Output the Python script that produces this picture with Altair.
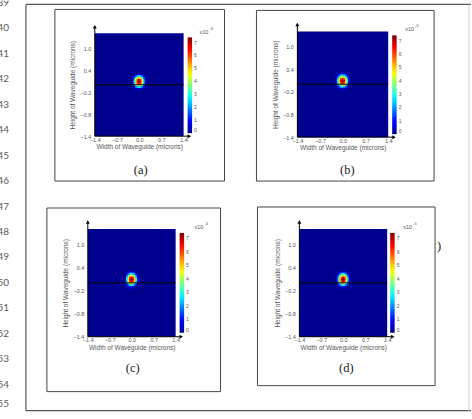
import altair as alt
import pandas as pd

# ---------------- data ----------------
x_ticks = [-1.4, -0.7, 0.0, 0.7, 1.4]
y_ticks = [-1.4, -0.8, -0.2, 0.4, 1.0]
bar_ticks = [0, 1, 2, 3, 4, 5, 6, 7]
panel_labels = ["(a)", "(b)", "(c)", "(d)"]
exponents = ["-6", "-6", "-6", "-5"]
line_numbers = list(range(39, 56))

# sampled mode intensity around the core (rows from top to bottom)
spot_x = [-0.20, -0.15, -0.10, -0.05, 0.00, 0.05, 0.10, 0.15, 0.20]
spot_y = [0.28, 0.23, 0.18, 0.13, 0.08, 0.03, -0.02, -0.07, -0.12]
spot = [
    [0.0, 0.1, 0.3, 0.5, 0.6, 0.5, 0.3, 0.1, 0.0],
    [0.1, 0.7, 1.6, 2.4, 2.8, 2.4, 1.6, 0.7, 0.1],
    [0.3, 1.6, 3.2, 4.5, 5.0, 4.5, 3.2, 1.6, 0.3],
    [0.5, 2.4, 4.5, 6.2, 6.8, 6.2, 4.5, 2.4, 0.5],
    [0.6, 2.8, 5.0, 6.8, 7.3, 6.8, 5.0, 2.8, 0.6],
    [0.5, 2.4, 4.5, 6.2, 6.8, 6.2, 4.5, 2.4, 0.5],
    [0.3, 1.6, 3.2, 4.5, 5.0, 4.5, 3.2, 1.6, 0.3],
    [0.1, 0.7, 1.6, 2.4, 2.8, 2.4, 1.6, 0.7, 0.1],
    [0.0, 0.1, 0.3, 0.5, 0.6, 0.5, 0.3, 0.1, 0.0],
]
sample_step = 0.05

# jet colour map
jet_stops = [0.0, 0.925, 2.775, 4.625, 6.475, 7.4]
jet_colors = ["#00008f", "#0000ff", "#00ffff", "#ffff00", "#ff0000", "#800000"]

# ---------------- tables ----------------
def field_table():
    h = sample_step / 2 + 0.006  # tiny overlap so neighbouring cells leave no seams
    rows = [dict(x=-1.4, x2=1.4, y=-1.4, y2=1.4, v=0.0)]
    for r, yc in enumerate(spot_y):
        for c, xc in enumerate(spot_x):
            rows.append(dict(x=xc - h, x2=xc + h, y=yc - h, y2=yc + h, v=spot[r][c]))
    return pd.DataFrame(rows)


field_df = field_table()
guide_df = pd.DataFrame(dict(
    x=[-1.4, -1.4, -1.4], x2=[1.55, -1.4, 1.4],
    y=[-1.4, -1.4, 0.0], y2=[-1.4, 1.55, 0.0],
))
arrow_df = pd.DataFrame(dict(x=[1.58, -1.4], y=[-1.4, 1.58],
                             shape=["triangle-right", "triangle-up"]))
one = pd.DataFrame({"k": [0]})

# ---------------- layout of the four cells ----------------
cells = [
    dict(w=236, h=196, frame=(55, 225, 9, 181), px=(95, 184), py=(136, 33),
         leg=(188, 37, 96), x10=(200, 34), lab=(141, 170)),
    dict(w=236, h=196, frame=(21, 199, 10, 181), px=(62, 153), py=(137, 31),
         leg=(157, 35, 99), x10=(170, 31), lab=(112, 170)),
    dict(w=236, h=223, frame=(47, 221, 12, 196), px=(88, 176), py=(141, 33),
         leg=(180, 37, 100), x10=(195, 33), lab=(133, 172)),
    dict(w=236, h=223, frame=(22, 200, 11, 190), px=(64, 152), py=(141, 33),
         leg=(155, 37, 100), x10=(168, 33), lab=(111, 172)),
]

SANS = "Liberation Sans"
SERIF = "Liberation Serif"
GREY = "#555555"

axis_style = dict(domain=False, ticks=False, tickSize=0, grid=False,
                  labelFont=SANS, labelFontSize=5.5, labelColor=GREY,
                  labelFlush=False, labelOverlap=False,
                  titleFont=SANS, titleFontSize=6.5, titleColor=GREY,
                  titleFontWeight="normal")


def panel(i):
    g = cells[i]
    xs = alt.Scale(domain=[-1.4, 1.4], range=list(g["px"]), nice=False, zero=False)
    ys = alt.Scale(domain=[-1.4, 1.4], range=list(g["py"]), nice=False, zero=False)
    X = alt.X("x:Q", scale=xs, axis=alt.Axis(
        values=x_ticks, format=".1f", title="Width of Waveguide (microns)",
        orient="bottom", offset=g["py"][0] - g["h"], labelPadding=1,
        titlePadding=1, **axis_style))
    Y = alt.Y("y:Q", scale=ys, axis=alt.Axis(
        values=y_ticks, format=".1f", title="Height of Waveguide (microns)",
        orient="left", offset=-g["px"][0], labelPadding=4,
        titlePadding=4, **axis_style))
    cs = alt.Scale(domain=jet_stops, range=jet_colors, interpolate="rgb")
    leg = alt.Legend(type="gradient", orient="none", legendX=g["leg"][0],
                     legendY=g["leg"][1], direction="vertical",
                     gradientLength=g["leg"][2], gradientThickness=4.5,
                     gradientStrokeWidth=0, values=bar_ticks, labelFont=SANS,
                     labelFontSize=5, labelColor=GREY, labelOffset=2,
                     labelOverlap=False, title=None, padding=0)

    heat = alt.Chart(field_df).mark_rect().encode(
        x=X, x2=alt.X2("x2"), y=Y, y2=alt.Y2("y2"),
        color=alt.Color("v:Q", scale=cs, legend=leg),
    )
    guides = alt.Chart(guide_df).mark_rule(color="black", strokeWidth=1).encode(
        x=X, x2=alt.X2("x2"), y=Y, y2=alt.Y2("y2"))
    arrows = alt.Chart(arrow_df).mark_point(filled=True, color="black", size=16,
                                            opacity=1).encode(
        x=X, y=Y, shape=alt.Shape("shape:N", scale=None))

    fx0, fx1, fy0, fy1 = g["frame"]
    frame = alt.Chart(one).mark_rect(fill="transparent", stroke="#444444",
                                     strokeWidth=1).encode(
        x=alt.value(fx0), x2=alt.value(fx1), y=alt.value(fy0), y2=alt.value(fy1))
    label = alt.Chart(one).mark_text(font=SERIF, fontSize=12.5, color="#222222",
                                     baseline="middle").encode(
        x=alt.value(g["lab"][0]), y=alt.value(g["lab"][1]),
        text=alt.value(panel_labels[i]))
    x10 = alt.Chart(one).mark_text(font=SANS, fontSize=5.5, color=GREY,
                                   align="left", baseline="alphabetic").encode(
        x=alt.value(g["x10"][0]), y=alt.value(g["x10"][1]), text=alt.value("x10"))
    sup = alt.Chart(one).mark_text(font=SANS, fontSize=4, color=GREY,
                                   align="left", baseline="alphabetic").encode(
        x=alt.value(g["x10"][0] + 10), y=alt.value(g["x10"][1] - 4),
        text=alt.value(exponents[i]))
    return [alt.layer(heat, guides, arrows), frame, label, x10, sup]


def numbers(lo, hi, shift):
    df = pd.DataFrame({"n": [n for n in line_numbers if lo <= n <= hi]})
    return alt.Chart(df).mark_text(align="right", baseline="middle", font="Lato",
                                   fontSize=10, color="#5a5a5a", clip=True).encode(
        x=alt.value(9),
        y=alt.Y("n:Q", scale=alt.Scale(domain=[40, 54, 55],
                                       range=[28 - shift, 385 - shift, 404 - shift]),
                axis=None),
        text="n:N")


def page_rule(x0, x1, y0, y1, color):
    enc = dict(x=alt.value(x0), y=alt.value(y0))
    if x1 != x0:
        enc["x2"] = alt.value(x1)
    if y1 != y0:
        enc["y2"] = alt.value(y1)
    return alt.Chart(one).mark_rule(color=color, strokeWidth=1.2).encode(**enc)


page = [
    page_rule(26, 26, 4, 411, "#555555"),
    page_rule(26, 472, 4, 4, "#555555"),
    page_rule(26, 472, 411, 411, "#555555"),
    page_rule(470, 470, 4, 411, "#d6d6d6"),
]

stray = alt.Chart(one).mark_text(font=SERIF, fontSize=12.5, color="#222222",
                                 baseline="middle").encode(
    x=alt.value(204), y=alt.value(50), text=alt.value(")"))

cell_a = alt.layer(*panel(0), numbers(39, 46, 0), *page).resolve_scale(
    y="independent").properties(width=cells[0]["w"], height=cells[0]["h"])
cell_b = alt.layer(*panel(1)).properties(width=cells[1]["w"], height=cells[1]["h"])
cell_c = alt.layer(*panel(2), numbers(47, 55, 196)).resolve_scale(
    y="independent").properties(width=cells[2]["w"], height=cells[2]["h"])
cell_d = alt.layer(*panel(3), stray).properties(width=cells[3]["w"], height=cells[3]["h"])

res = dict(x="independent", y="independent", color="independent")
chart = alt.concat(cell_a, cell_b, cell_c, cell_d, columns=2, spacing=0,
                   bounds="flush").resolve_scale(**res).properties(
    padding=0, background="white"
).configure_view(strokeWidth=0)

chart.save("out.html", embed_options={"renderer": "svg", "actions": False})
